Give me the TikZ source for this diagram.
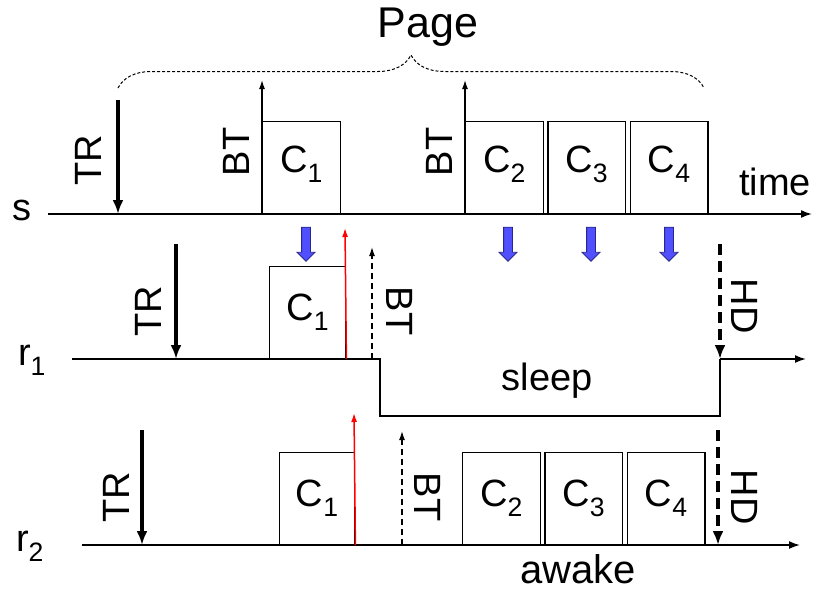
\documentclass[tikz,border=0pt]{standalone}
\usepackage{fontspec}
\setmainfont{Liberation Sans}
\usetikzlibrary{arrows.meta,positioning,shapes.arrows,decorations.pathreplacing}

\definecolor{fetchblue}{RGB}{80,80,255}
\definecolor{fetchedge}{RGB}{40,40,140}

\tikzset{
  axis/.style      = {line width=1.7pt, -{Latex[length=11pt,width=8pt]}},
  wire/.style      = {line width=1.7pt},
  chunk/.style     = {draw, line width=1.4pt, minimum width=77.5pt,
                      minimum height=92pt, inner sep=0pt, anchor=south west},
  trig/.style      = {line width=3.6pt, -{Latex[length=14pt,width=11pt]}},
  hdarrow/.style   = {trig, dash pattern=on 11pt off 6pt},
  btarrow/.style   = {line width=1.3pt, -{Latex[length=9pt,width=6pt]}},
  btdash/.style    = {btarrow, dash pattern=on 6pt off 4pt},
  rxarrow/.style   = {btarrow, red, line width=1.5pt},
  fetch/.style     = {single arrow, draw=fetchedge, fill=fetchblue,
                      line width=0.8pt, minimum height=34pt, minimum width=17pt,
                      inner xsep=0pt, inner ysep=4pt,
                      single arrow head extend=4.5pt, rotate=-90},
  upword/.style    = {rotate=90},
  downword/.style  = {rotate=-90},
  pagebrace/.style = {decorate, decoration={brace, amplitude=33pt},
                      line width=1pt, dash pattern=on 3pt off 2pt},
}

\begin{document}
\begin{tikzpicture}[x=1pt, y=-1pt, font=\fontsize{38}{44}\selectfont]
  \useasboundingbox (0,0) rectangle (821,592);

  % sender s
  \coordinate (s0) at (48,214);
  \coordinate (s1) at (812,214);
  \node (sname) at (22,210) {s};
  \draw[axis] (s0) -- (s1);
  \node (time) at (775,182) {time};

  \coordinate (trS) at (118,100);
  \draw[trig] (trS) -- (trS |- s0);
  \node[upword] (trSl) at (88,160) {TR};

  \tikzset{chunk/.append style={text depth=16pt}}% texte un peu plus haut
  \node[chunk] (c1S) at (262,214) {C\textsubscript{1}};
  \coordinate (btS) at (262,80);
  \draw[btarrow] (c1S.south west) -- (btS);
  \node[upword] (btSl) at (236,152) {BT};

  \node[chunk] (c2S) at (465,214) {C\textsubscript{2}};
  \node[chunk, right=3.5pt of c2S] (c3S) {C\textsubscript{3}};
  \node[chunk, right=3.5pt of c3S] (c4S) {C\textsubscript{4}};
  \coordinate (bt2S) at (465,80);
  \draw[btarrow] (c2S.south west) -- (bt2S);
  \node[upword] (bt2Sl) at (439,152) {BT};
  \tikzset{chunk/.append style={text depth=}}

  % the page spans all chunks
  \coordinate (pgL) at (118,88);
  \coordinate (pgR) at (704,88);
  \draw[pagebrace] (pgL) -- (pgR);
  \node[font=\fontsize{43}{48}\selectfont] (page) at (428,27) {Page};

  % chunks sent out
  \node[fetch] (f1) at (306,242) {};
  \node[fetch] (f2) at (508,242) {};
  \node[fetch] (f3) at (591,242) {};
  \node[fetch] (f4) at (669,242) {};

  % receiver r1
  \coordinate (r1a) at (72,359);
  \coordinate (sl0) at (380,359);
  \coordinate (sl1) at (720,359);
  \coordinate (r1b) at (806,359);
  \node (r1name) at (32,360) {r\textsubscript{1}};
  \draw[wire] (r1a) -- (sl0) -- ++(0,57) -| (sl1);
  \draw[axis] (sl1) -- (r1b);
  \node (sleep) at (547,381) {sleep};

  \coordinate (trR1) at (176,244);
  \draw[trig] (trR1) -- (trR1 |- r1a);
  \node[upword] (trR1l) at (148,311) {TR};

  \node[chunk, minimum width=76pt] (c1R1) at (269,359) {C\textsubscript{1}};
  \coordinate (rxR1) at (345,228);
  \draw[rxarrow] (c1R1.south east) -- (rxR1);

  \coordinate (btR1) at (372,247);
  \draw[btdash] (btR1 |- r1a) -- (btR1);
  \node[downword] (btR1l) at (400,311) {BT};

  \coordinate (hdR1) at (720,244);
  \draw[hdarrow] (hdR1) -- (sl1);
  \node[downword] (hdR1l) at (745,306) {HD};

  % receiver r2
  \coordinate (r2a) at (82,545);
  \coordinate (r2b) at (800,545);
  \node (r2name) at (30,546) {r\textsubscript{2}};
  \draw[axis] (r2a) -- (r2b);
  \node[font=\fontsize{40}{46}\selectfont, inner sep=0pt] (awake) at (578,569) {awake};

  \coordinate (trR2) at (142,430);
  \draw[trig] (trR2) -- (trR2 |- r2a);
  \node[upword] (trR2l) at (116,497) {TR};

  \node[chunk, minimum width=75pt] (c1R2) at (279,545) {C\textsubscript{1}};
  \coordinate (rxR2) at (354,413);
  \draw[rxarrow] (c1R2.south east) -- (rxR2);

  \coordinate (btR2) at (402,431);
  \draw[btdash] (btR2 |- r2a) -- (btR2);
  \node[downword] (btR2l) at (428,497) {BT};

  \node[chunk] (c2R2) at (462,545) {C\textsubscript{2}};
  \node[chunk, right=3.5pt of c2R2] (c3R2) {C\textsubscript{3}};
  \node[chunk, right=3.5pt of c3R2] (c4R2) {C\textsubscript{4}};

  \coordinate (hdR2) at (718,430);
  \draw[hdarrow] (hdR2) -- (hdR2 |- r2a);
  \node[downword] (hdR2l) at (745,497) {HD};
\end{tikzpicture}
\end{document}
